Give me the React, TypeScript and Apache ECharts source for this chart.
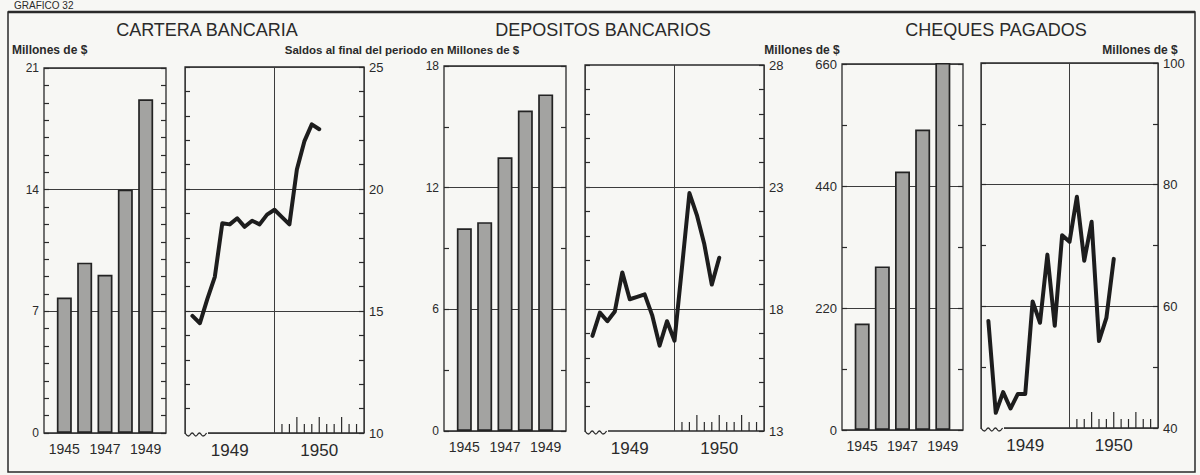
import React, { useEffect, useRef } from "react";
import * as echarts from "echarts";

const FONT = "'Liberation Sans', Arial, Helvetica, sans-serif";
const NARROW = "'Liberation Sans Narrow', 'Arial Narrow', 'Liberation Sans', sans-serif";
const INK = "#2a2a2a";
const GRIDC = "#3c3c3c";
const BG = "#f7f7f4";

// ---- Annual data (bars), millions of $ ----
const anios = [1945, 1946, 1947, 1948, 1949];
const aniosEtiquetas = [1945, 1947, 1949];
const carteraAnual = [7.8, 9.8, 9.1, 14.0, 19.2];
const depositosAnual = [10.0, 10.3, 13.5, 15.8, 16.6];
const chequesAnual = [192, 295, 466, 542, 662];

// ---- Monthly data (lines), month index on a 1949-1950 axis (0..24) ----
const meses = [1, 2, 3, 4, 5, 6, 7, 8, 9, 10, 11, 12, 13, 14, 15, 16, 17, 18];
const carteraMensual = [14.8, 14.5, 15.5, 16.4, 18.6, 18.55, 18.8, 18.45, 18.7, 18.55, 18.95, 19.15, 18.85, 18.55, 20.8, 21.95, 22.65, 22.45];
const depositosMensual = [16.9, 17.85, 17.5, 17.9, 19.5, 18.4, 18.5, 18.6, 17.75, 16.5, 17.5, 16.7, 19.7, 22.75, 21.85, 20.65, 19.0, 20.1];
const chequesMensual = [57.6, 42.5, 45.9, 43.2, 45.6, 45.6, 60.8, 57.3, 68.5, 56.8, 71.7, 70.6, 78.0, 67.5, 73.9, 54.3, 58.1, 67.8];

const etiquetasPeriodo = ["1949", "1950"];
const marcasMeses1950 = [13, 14, 15, 16, 17, 18, 19, 20, 21, 22, 23];
const marcasTrimestre = [15, 18, 21];

// y scales: [min, max, interval, minor split]
const escalaCarteraAnual = [0, 21, 7, 7];
const escalaCarteraMensual = [10, 25, 5, 5];
const escalaDepositosAnual = [0, 18, 6, 2];
const escalaDepositosMensual = [13, 28];
const depositosMensualEtiquetas = [13, 18, 23, 28];
const depositosMensualGuias = [18, 23];
const escalaChequesAnual = [0, 660, 220, 2];
const escalaChequesMensual = [40, 100, 20, 2];

const titulos = ["CARTERA BANCARIA", "DEPOSITOS BANCARIOS", "CHEQUES PAGADOS"];

// layout of the six panels (pixels)
const grids = [
  { left: 44, top: 68, width: 122, height: 365 },
  { left: 185, top: 67, width: 179, height: 366 },
  { left: 444, top: 66, width: 122, height: 365 },
  { left: 585, top: 65, width: 179, height: 366 },
  { left: 842, top: 64, width: 121, height: 366 },
  { left: 981, top: 63, width: 177, height: 365 },
];

function yPair(gi: number, min: number, max: number, interval: number, minor: number, side: "left" | "right", fs: number, fmt?: any, split = true) {
  const tickStyle = { color: INK, width: 1.2 };
  const common: any = {
    type: "value",
    gridIndex: gi,
    min,
    max,
    interval,
    axisLine: { show: false, onZero: false },
    axisTick: { show: true, inside: true, length: 5, lineStyle: tickStyle },
    minorTick: minor ? { show: true, splitNumber: minor, length: 5, lineStyle: tickStyle } : { show: false },
    minorSplitLine: { show: false },
  };
  return [
    {
      ...common,
      position: side,
      splitLine: { show: split, lineStyle: { color: GRIDC, width: 1 } },
      axisLabel: { show: true, color: INK, fontFamily: FONT, fontSize: fs, margin: 5, formatter: fmt },
    },
    {
      ...common,
      position: side === "left" ? "right" : "left",
      splitLine: { show: false },
      axisLabel: { show: false },
    },
  ];
}

function xYears(gi: number) {
  return {
    type: "value",
    gridIndex: gi,
    min: 1944,
    max: 1950,
    interval: 1,
    axisLine: { show: false, onZero: false },
    axisTick: { show: false },
    splitLine: { show: false },
    axisLabel: {
      show: true,
      color: INK,
      fontFamily: NARROW,
      fontSize: 14,
      margin: 9,
      formatter: (v: number) => (aniosEtiquetas.includes(v) ? String(v) : ""),
    },
  };
}

function xMonths(gi: number) {
  return {
    type: "value",
    gridIndex: gi,
    min: 0,
    max: 24,
    interval: 12,
    axisLine: { show: false, onZero: false },
    axisTick: { show: false },
    axisLabel: { show: false },
    splitLine: { show: true, lineStyle: { color: GRIDC, width: 1 } },
  };
}

function xPeriod(gi: number) {
  return {
    type: "category",
    gridIndex: gi,
    data: etiquetasPeriodo,
    boundaryGap: true,
    position: "bottom",
    axisLine: { show: false, onZero: false },
    axisTick: { show: false },
    splitLine: { show: false },
    axisLabel: { show: true, color: INK, fontFamily: FONT, fontSize: 17, margin: 9 },
  };
}

function barSeries(xi: number, yi: number, vals: number[]) {
  return {
    type: "bar",
    xAxisIndex: xi,
    yAxisIndex: yi,
    data: anios.map((a, i) => [a, vals[i]]),
    barWidth: 15,
    clip: false,
    itemStyle: { color: "#a3a3a1", borderColor: "#232323", borderWidth: 1.7 },
  };
}

function lineSeries(xi: number, yi: number, vals: number[], extra: any = {}) {
  return {
    type: "line",
    xAxisIndex: xi,
    yAxisIndex: yi,
    data: meses.map((m, i) => [m, vals[i]]),
    symbol: "none",
    z: 3,
    lineStyle: { color: "#1d1d1d", width: 4, join: "round", cap: "round" },
    ...extra,
  };
}

function monthTicks(xi: number, yi: number, ymin: number) {
  return {
    type: "custom",
    xAxisIndex: xi,
    yAxisIndex: yi,
    silent: true,
    data: marcasMeses1950.map((m) => [m, ymin, marcasTrimestre.includes(m) ? 1 : 0]),
    encode: { x: 0, y: 1 },
    renderItem: (_params: any, api: any) => {
      const p = api.coord([api.value(0), api.value(1)]);
      const h = api.value(2) ? 16 : 9;
      return {
        type: "line",
        shape: { x1: p[0], y1: p[1], x2: p[0], y2: p[1] - h },
        style: { stroke: INK, lineWidth: 1.2 },
      };
    },
  };
}

function waves() {
  const out: any[] = [];
  [1, 3, 5].forEach((gi) => {
    const g = grids[gi];
    const bottom = g.top + g.height;
    const pts: number[][] = [];
    for (let k = 0; k <= 6; k++) pts.push([g.left + k * 3.6, bottom + (k % 2 ? 3 : 0)]);
    out.push({
      type: "rect",
      z: 50,
      shape: { x: g.left + 1, y: bottom - 1.5, width: 22, height: 3 },
      style: { fill: BG },
    });
    out.push({
      type: "polyline",
      z: 51,
      shape: { points: pts, smooth: 0.5 },
      style: { stroke: INK, fill: "none", lineWidth: 1.3 },
    });
  });
  return out;
}

function txt(text: string, x: number, y: number, font: string, align = "center") {
  return {
    type: "text",
    x,
    y,
    z: 60,
    style: { text, fill: INK, font, textAlign: align, textVerticalAlign: "middle" },
  };
}

export default function App() {
  const ref = useRef<HTMLDivElement>(null);
  useEffect(() => {
    if (!ref.current) return;
    const chart = echarts.init(ref.current, undefined, { renderer: "svg" });

    const yAxis = [
      ...yPair(0, escalaCarteraAnual[0], escalaCarteraAnual[1], escalaCarteraAnual[2], escalaCarteraAnual[3], "left", 12),
      ...yPair(1, escalaCarteraMensual[0], escalaCarteraMensual[1], escalaCarteraMensual[2], escalaCarteraMensual[3], "right", 13),
      ...yPair(2, escalaDepositosAnual[0], escalaDepositosAnual[1], escalaDepositosAnual[2], escalaDepositosAnual[3], "left", 12),
      ...yPair(3, escalaDepositosMensual[0], escalaDepositosMensual[1], 1, 0, "right", 13,
        (v: number) => (depositosMensualEtiquetas.includes(v) ? String(v) : ""), false),
      ...yPair(4, escalaChequesAnual[0], escalaChequesAnual[1], escalaChequesAnual[2], escalaChequesAnual[3], "left", 13),
      ...yPair(5, escalaChequesMensual[0], escalaChequesMensual[1], escalaChequesMensual[2], escalaChequesMensual[3], "right", 13),
    ];

    const xAxis = [
      xYears(0), // 0
      xMonths(1), // 1
      xPeriod(1), // 2
      xYears(2), // 3
      xMonths(3), // 4
      xPeriod(3), // 5
      xYears(4), // 6
      xMonths(5), // 7
      xPeriod(5), // 8
    ];

    const series: any[] = [
      barSeries(0, 0, carteraAnual),
      lineSeries(1, 2, carteraMensual),
      monthTicks(1, 2, escalaCarteraMensual[0]),
      barSeries(3, 4, depositosAnual),
      lineSeries(4, 6, depositosMensual, {
        markLine: {
          silent: true,
          symbol: ["none", "none"],
          label: { show: false },
          lineStyle: { color: GRIDC, width: 1, type: "solid" },
          z: 1,
          data: depositosMensualGuias.map((v) => ({ yAxis: v })),
        },
      }),
      monthTicks(4, 6, escalaDepositosMensual[0]),
      barSeries(6, 8, chequesAnual),
      lineSeries(7, 10, chequesMensual),
      monthTicks(7, 10, escalaChequesMensual[0]),
    ];

    const boldSmall = `bold 12px ${FONT}`;
    const graphic: any[] = [
      {
        type: "rect",
        z: 0,
        shape: { x: 8, y: 12, width: 1187, height: 460 },
        style: { fill: "none", stroke: INK, lineWidth: 1.5 },
      },
      {
        type: "line",
        z: 0,
        shape: { x1: 8, y1: 12, x2: 1195, y2: 12 },
        style: { stroke: INK, lineWidth: 2.5 },
      },
      txt("GRAFICO 32", 14, 5.5, `10px ${FONT}`, "left"),
      txt(titulos[0], 207, 30, `18px ${FONT}`),
      txt(titulos[1], 603, 30, `18px ${FONT}`),
      txt(titulos[2], 996, 30, `18px ${FONT}`),
      txt("Millones de $", 12, 50, boldSmall, "left"),
      txt("Saldos al final del periodo en Millones de $", 402, 50, `bold 11.5px ${FONT}`),
      txt("Millones de $", 802, 50, boldSmall),
      txt("Millones de $", 1140, 50, boldSmall),
      ...waves(),
    ];

    chart.setOption({
      animation: false,
      backgroundColor: BG,
      grid: grids.map((g) => ({
        ...g,
        show: true,
        borderColor: INK,
        borderWidth: 1.3,
        backgroundColor: "transparent",
        containLabel: false,
      })),
      xAxis,
      yAxis,
      series,
      graphic,
    });
    return () => chart.dispose();
  }, []);

  return <div ref={ref} style={{ position: "absolute", left: 0, top: 0, width: 1200, height: 475 }} />;
}
